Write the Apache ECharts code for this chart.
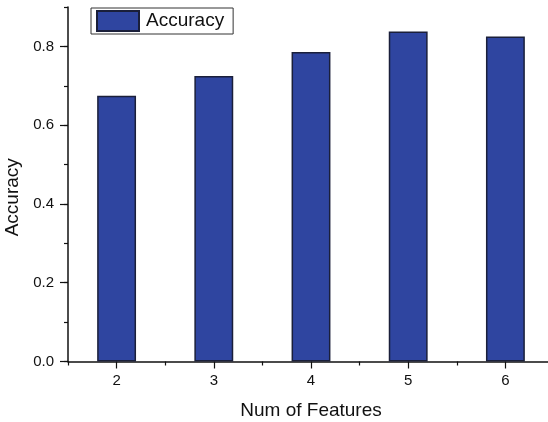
<!DOCTYPE html>
<html>
<head>
<meta charset="utf-8">
<script src="https://cdn.jsdelivr.net/npm/echarts@6/dist/echarts.min.js"></script>
<style>html,body{margin:0;padding:0;background:#fff;overflow:hidden;}#c{width:554px;height:422px;}</style>
</head>
<body>
<div id="c"></div>
<script>
var categories = ['2', '3', '4', '5', '6'];
var accuracy = [0.675, 0.725, 0.786, 0.838, 0.825];
var seriesName = 'Accuracy';
var xTitle = 'Num of Features';
var yTitle = 'Accuracy';

var FONT = 'Liberation Sans, Arial, sans-serif';
var chart = echarts.init(document.getElementById('c'));
var axisLine = {show: true, lineStyle: {color: '#111', width: 1.5}};
chart.setOption({
  animation: false,
  backgroundColor: '#fff',
  textStyle: {fontFamily: FONT},
  grid: {left: 68, top: 7, right: 0, bottom: 60.5, containLabel: false, outerBoundsMode: 'none'},
  legend: {
    left: 91, top: 8,
    padding: [2, 9, 2, 5],
    borderColor: '#333', borderWidth: 1, borderRadius: 0,
    backgroundColor: '#fff',
    itemWidth: 42, itemHeight: 20,
    icon: 'rect',
    textStyle: {fontSize: 19, color: '#111', fontFamily: FONT, padding: [0, 0, 0, 2]},
    data: [seriesName]
  },
  xAxis: [{
    type: 'category', data: categories, position: 'bottom',
    name: xTitle, nameLocation: 'middle', nameGap: 40,
    nameTextStyle: {fontSize: 19, color: '#111', fontFamily: FONT},
    axisLine: axisLine,
    axisTick: {show: true, alignWithLabel: true, length: 7, lineStyle: {color: '#111', width: 1.2}},
    axisLabel: {fontSize: 15, color: '#111', margin: 12, fontFamily: FONT},
    splitLine: {show: false}
  }, {
    type: 'category', data: categories, position: 'bottom',
    axisLine: {show: false},
    axisTick: {show: true, alignWithLabel: false, length: 4, lineStyle: {color: '#111', width: 1.2}},
    axisLabel: {show: false},
    splitLine: {show: false}
  }],
  yAxis: [{
    type: 'value', min: 0, max: 0.9, interval: 0.2, position: 'left',
    name: yTitle, nameLocation: 'middle', nameGap: 42,
    nameTextStyle: {fontSize: 19, color: '#111', fontFamily: FONT, padding: [0, 26, 0, 0]},
    axisLine: axisLine,
    axisTick: {show: true, length: 8, lineStyle: {color: '#111', width: 1.2}},
    axisLabel: {fontSize: 15, color: '#111', margin: 14, fontFamily: FONT,
      formatter: function (v) { return v.toFixed(1); },
      showMaxLabel: false},
    splitLine: {show: false}
  }, {
    type: 'value', min: 0, max: 0.9, interval: 0.1, position: 'left', offset: 0,
    axisLine: {show: false},
    axisTick: {show: true, length: 4, lineStyle: {color: '#111', width: 1.2}},
    axisLabel: {show: false},
    splitLine: {show: false}
  }],
  series: [{
    name: seriesName, type: 'bar', data: accuracy,
    xAxisIndex: 0, yAxisIndex: 0,
    barWidth: '40%',
    itemStyle: {color: '#2f45a0', borderColor: '#1a1f3a', borderWidth: 1.5}
  }]
});
</script>
</body>
</html>
